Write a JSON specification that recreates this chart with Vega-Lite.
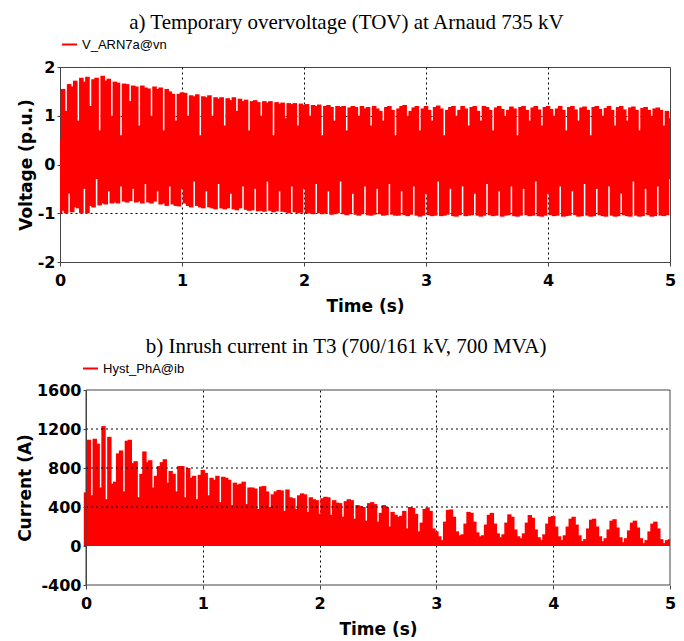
{
  "$schema": "https://vega.github.io/schema/vega-lite/v6.json",
  "padding": {"left": 16, "top": 11, "right": 4, "bottom": 0},
  "spacing": 21,
  "resolve": {"scale": {"color": "independent"}, "legend": {"color": "independent"}},
  "config": {
    "view": {"stroke": "#444", "strokeWidth": 1},
    "axis": {"labelFont": "DejaVu Sans", "labelFontWeight": "bold", "labelFontSize": 16, "labelColor": "#000", "titleFont": "DejaVu Sans", "titleFontWeight": "bold", "titleFontSize": 17, "titleColor": "#000", "domainColor": "#444", "tickColor": "#444", "gridColor": "#000", "gridDash": [2, 3], "gridWidth": 1, "zindex": 1, "labelOverlap": false, "labelExpr": "datum.value < 0 ? '-' + abs(datum.value) : '' + datum.value"},
    "axisX": {"tickSize": 4, "labelPadding": 6, "titlePadding": 10, "labelFlush": false},
    "axisY": {"tickSize": 3, "labelPadding": 2, "titlePadding": 2},
    "legend": {"orient": "none", "labelFont": "Liberation Sans", "labelFontSize": 13, "labelColor": "#000", "symbolType": "stroke", "symbolSize": 225, "symbolStrokeWidth": 2, "labelOffset": 4, "title": null},
    "title": {"font": "Liberation Serif", "fontSize": 21, "fontWeight": "normal", "color": "#000", "anchor": "middle", "frame": "bounds", "offset": 3}
  },
  "vconcat": [
    {
      "title": {"text": "a) Temporary overvoltage (TOV) at Arnaud 735 kV"},
      "width": 610,
      "height": 195,
      "data": {"values": [
        {"t":0,"hi":0.5,"lo":-1},{"t":0.025,"hi":1.55,"lo":-0.95},{"t":0.05,"hi":1.1,"lo":-1},{"t":0.075,"hi":1.65,"lo":-0.6},{"t":0.1,"hi":1.6,"lo":-0.98},
        {"t":0.125,"hi":1.72,"lo":-0.88},{"t":0.15,"hi":0.9,"lo":-0.9},{"t":0.175,"hi":1.78,"lo":-1},{"t":0.2,"hi":1.7,"lo":-0.5},{"t":0.225,"hi":1.8,"lo":-1},
        {"t":0.25,"hi":1.2,"lo":-0.85},{"t":0.275,"hi":1.75,"lo":-0.88},{"t":0.3,"hi":1.78,"lo":-0.3},{"t":0.325,"hi":0.7,"lo":-0.84},{"t":0.35,"hi":1.82,"lo":-0.8},
        {"t":0.375,"hi":1.72,"lo":-0.82},{"t":0.4,"hi":1.76,"lo":-0.55},{"t":0.425,"hi":1.0,"lo":-0.8},{"t":0.45,"hi":1.7,"lo":-0.78},{"t":0.475,"hi":1.68,"lo":-0.8},
        {"t":0.5,"hi":0.6,"lo":-0.45},{"t":0.525,"hi":1.66,"lo":-0.76},{"t":0.55,"hi":1.65,"lo":-0.78},{"t":0.575,"hi":1.3,"lo":-0.75},{"t":0.6,"hi":1.62,"lo":-0.5},
        {"t":0.625,"hi":1.6,"lo":-0.78},{"t":0.65,"hi":0.8,"lo":-0.76},{"t":0.675,"hi":1.62,"lo":-0.8},{"t":0.7,"hi":1.58,"lo":-0.4},{"t":0.725,"hi":1.56,"lo":-0.78},
        {"t":0.75,"hi":1.0,"lo":-0.8},{"t":0.775,"hi":1.6,"lo":-0.76},{"t":0.8,"hi":1.55,"lo":-0.55},{"t":0.825,"hi":1.58,"lo":-0.82},{"t":0.85,"hi":0.7,"lo":-0.8},
        {"t":0.875,"hi":1.55,"lo":-0.85},{"t":0.9,"hi":1.5,"lo":-0.45},{"t":0.925,"hi":1.45,"lo":-0.82},{"t":0.95,"hi":0.9,"lo":-0.85},{"t":0.975,"hi":1.45,"lo":-0.86},
        {"t":1,"hi":1.48,"lo":-0.5},{"t":1.025,"hi":1.47,"lo":-0.8},{"t":1.05,"hi":1.0,"lo":-0.85},{"t":1.075,"hi":1.42,"lo":-0.88},{"t":1.1,"hi":1.4,"lo":-0.35},
        {"t":1.125,"hi":1.44,"lo":-0.85},{"t":1.15,"hi":0.6,"lo":-0.88},{"t":1.175,"hi":1.4,"lo":-0.9},{"t":1.2,"hi":1.38,"lo":-0.55},{"t":1.225,"hi":1.42,"lo":-0.88},
        {"t":1.25,"hi":1.0,"lo":-0.9},{"t":1.275,"hi":1.38,"lo":-0.92},{"t":1.3,"hi":1.35,"lo":-0.4},{"t":1.325,"hi":1.38,"lo":-0.9},{"t":1.35,"hi":0.8,"lo":-0.92},
        {"t":1.375,"hi":1.36,"lo":-0.9},{"t":1.4,"hi":1.32,"lo":-0.6},{"t":1.425,"hi":1.38,"lo":-0.92},{"t":1.45,"hi":1.1,"lo":-0.94},{"t":1.475,"hi":1.35,"lo":-0.9},
        {"t":1.5,"hi":1.3,"lo":-0.45},{"t":1.525,"hi":1.33,"lo":-0.93},{"t":1.55,"hi":0.7,"lo":-0.95},{"t":1.575,"hi":1.3,"lo":-0.94},{"t":1.6,"hi":1.32,"lo":-0.5},
        {"t":1.625,"hi":1.28,"lo":-0.96},{"t":1.65,"hi":1.0,"lo":-0.95},{"t":1.675,"hi":1.3,"lo":-0.97},{"t":1.7,"hi":1.27,"lo":-0.35},{"t":1.725,"hi":1.3,"lo":-0.95},
        {"t":1.75,"hi":0.6,"lo":-0.98},{"t":1.775,"hi":1.28,"lo":-0.96},{"t":1.8,"hi":1.25,"lo":-0.55},{"t":1.825,"hi":1.27,"lo":-0.97},{"t":1.85,"hi":0.95,"lo":-0.98},
        {"t":1.875,"hi":1.26,"lo":-1},{"t":1.9,"hi":1.24,"lo":-0.45},{"t":1.925,"hi":1.26,"lo":-0.98},{"t":1.95,"hi":0.8,"lo":-1},{"t":1.975,"hi":1.25,"lo":-0.99},
        {"t":2,"hi":1.22,"lo":-0.5},{"t":2.025,"hi":1.24,"lo":-1},{"t":2.05,"hi":1.0,"lo":-1},{"t":2.075,"hi":1.22,"lo":-1.02},{"t":2.1,"hi":1.2,"lo":-0.4},
        {"t":2.125,"hi":1.23,"lo":-1},{"t":2.15,"hi":0.6,"lo":-1.02},{"t":2.175,"hi":1.2,"lo":-1},{"t":2.2,"hi":1.22,"lo":-0.55},{"t":2.225,"hi":1.18,"lo":-1.03},
        {"t":2.25,"hi":0.9,"lo":-1.02},{"t":2.275,"hi":1.2,"lo":-1},{"t":2.3,"hi":1.18,"lo":-0.35},{"t":2.325,"hi":1.2,"lo":-1.02},{"t":2.35,"hi":0.7,"lo":-1.04},
        {"t":2.375,"hi":1.17,"lo":-1.02},{"t":2.4,"hi":1.2,"lo":-0.6},{"t":2.425,"hi":1.18,"lo":-1.03},{"t":2.45,"hi":1.0,"lo":-1.05},{"t":2.475,"hi":1.2,"lo":-1.02},
        {"t":2.5,"hi":1.15,"lo":-0.45},{"t":2.525,"hi":1.18,"lo":-1.04},{"t":2.55,"hi":0.8,"lo":-1.05},{"t":2.575,"hi":1.2,"lo":-1.03},{"t":2.6,"hi":1.15,"lo":-0.5},
        {"t":2.625,"hi":1.1,"lo":-1.02},{"t":2.65,"hi":0.9,"lo":-1.05},{"t":2.675,"hi":1.18,"lo":-1.04},{"t":2.7,"hi":1.2,"lo":-0.4},{"t":2.725,"hi":1.12,"lo":-1.03},
        {"t":2.75,"hi":0.6,"lo":-1.05},{"t":2.775,"hi":1.15,"lo":-1.05},{"t":2.8,"hi":1.2,"lo":-0.55},{"t":2.825,"hi":1.22,"lo":-1.04},{"t":2.85,"hi":1.0,"lo":-1.06},
        {"t":2.875,"hi":1.1,"lo":-1.03},{"t":2.9,"hi":1.17,"lo":-0.45},{"t":2.925,"hi":1.2,"lo":-1.05},{"t":2.95,"hi":0.7,"lo":-1.07},{"t":2.975,"hi":1.15,"lo":-1.05},
        {"t":3,"hi":1.2,"lo":-0.6},{"t":3.025,"hi":1.12,"lo":-1.04},{"t":3.05,"hi":0.9,"lo":-1.06},{"t":3.075,"hi":1.18,"lo":-1.05},{"t":3.1,"hi":1.21,"lo":-0.35},
        {"t":3.125,"hi":1.15,"lo":-1.06},{"t":3.15,"hi":0.6,"lo":-1.05},{"t":3.175,"hi":1.12,"lo":-1.03},{"t":3.2,"hi":1.18,"lo":-0.5},{"t":3.225,"hi":1.2,"lo":-1.06},
        {"t":3.25,"hi":1.0,"lo":-1.07},{"t":3.275,"hi":1.12,"lo":-1.04},{"t":3.3,"hi":1.2,"lo":-0.45},{"t":3.325,"hi":1.15,"lo":-1.06},{"t":3.35,"hi":0.8,"lo":-1.05},
        {"t":3.375,"hi":1.18,"lo":-1.04},{"t":3.4,"hi":1.2,"lo":-0.6},{"t":3.425,"hi":1.1,"lo":-1.05},{"t":3.45,"hi":0.9,"lo":-1.07},{"t":3.475,"hi":1.2,"lo":-1.05},
        {"t":3.5,"hi":1.18,"lo":-0.4},{"t":3.525,"hi":1.12,"lo":-1.04},{"t":3.55,"hi":0.7,"lo":-1.06},{"t":3.575,"hi":1.17,"lo":-1.05},{"t":3.6,"hi":1.2,"lo":-0.55},
        {"t":3.625,"hi":1.14,"lo":-1.07},{"t":3.65,"hi":1.0,"lo":-1.05},{"t":3.675,"hi":1.12,"lo":-1.04},{"t":3.7,"hi":1.19,"lo":-0.45},{"t":3.725,"hi":1.15,"lo":-1.06},
        {"t":3.75,"hi":0.6,"lo":-1.07},{"t":3.775,"hi":1.18,"lo":-1.05},{"t":3.8,"hi":1.2,"lo":-0.5},{"t":3.825,"hi":1.12,"lo":-1.04},{"t":3.85,"hi":0.9,"lo":-1.06},
        {"t":3.875,"hi":1.17,"lo":-1.05},{"t":3.9,"hi":1.2,"lo":-0.35},{"t":3.925,"hi":1.13,"lo":-1.06},{"t":3.95,"hi":0.8,"lo":-1.07},{"t":3.975,"hi":1.18,"lo":-1.05},
        {"t":4,"hi":1.2,"lo":-0.6},{"t":4.025,"hi":1.14,"lo":-1.04},{"t":4.05,"hi":1.0,"lo":-1.06},{"t":4.075,"hi":1.15,"lo":-1.05},{"t":4.1,"hi":1.2,"lo":-0.45},
        {"t":4.125,"hi":1.12,"lo":-1.07},{"t":4.15,"hi":0.7,"lo":-1.06},{"t":4.175,"hi":1.18,"lo":-1.05},{"t":4.2,"hi":1.2,"lo":-0.55},{"t":4.225,"hi":1.13,"lo":-1.04},
        {"t":4.25,"hi":0.9,"lo":-1.07},{"t":4.275,"hi":1.17,"lo":-1.06},{"t":4.3,"hi":1.19,"lo":-0.4},{"t":4.325,"hi":1.12,"lo":-1.05},{"t":4.35,"hi":0.6,"lo":-1.07},
        {"t":4.375,"hi":1.18,"lo":-1.06},{"t":4.4,"hi":1.2,"lo":-0.5},{"t":4.425,"hi":1.14,"lo":-1.04},{"t":4.45,"hi":1.0,"lo":-1.06},{"t":4.475,"hi":1.16,"lo":-1.07},
        {"t":4.5,"hi":1.2,"lo":-0.45},{"t":4.525,"hi":1.12,"lo":-1.05},{"t":4.55,"hi":0.8,"lo":-1.07},{"t":4.575,"hi":1.18,"lo":-1.06},{"t":4.6,"hi":1.2,"lo":-0.6},
        {"t":4.625,"hi":1.13,"lo":-1.04},{"t":4.65,"hi":0.9,"lo":-1.06},{"t":4.675,"hi":1.17,"lo":-1.07},{"t":4.7,"hi":1.19,"lo":-0.35},{"t":4.725,"hi":1.12,"lo":-1.05},
        {"t":4.75,"hi":0.7,"lo":-1.07},{"t":4.775,"hi":1.16,"lo":-1.06},{"t":4.8,"hi":1.18,"lo":-0.5},{"t":4.825,"hi":1.12,"lo":-1.04},{"t":4.85,"hi":1.0,"lo":-1.07},
        {"t":4.875,"hi":1.15,"lo":-1.06},{"t":4.9,"hi":1.17,"lo":-0.45},{"t":4.925,"hi":1.12,"lo":-1.05},{"t":4.95,"hi":0.8,"lo":-1.06},{"t":4.975,"hi":1.1,"lo":-1.04},
        {"t":5,"hi":0.95,"lo":-0.3}
      ]},
      "mark": {"type": "rule", "strokeWidth": 4.6, "clip": true},
      "encoding": {
        "x": {"field": "t", "type": "quantitative", "title": "Time (s)", "scale": {"domain": [0, 5], "nice": false}, "axis": {"values": [0, 1, 2, 3, 4, 5], "gridOpacity": {"condition": {"test": "datum.value === 0 || datum.value === 5", "value": 0}, "value": 1}}},
        "y": {"field": "lo", "type": "quantitative", "title": "Voltage (p.u.)", "scale": {"domain": [-2, 2], "nice": false}, "axis": {"values": [-2, -1, 0, 1, 2], "gridOpacity": {"condition": {"test": "datum.value === 0 || datum.value === 2 || datum.value === -2", "value": 0}, "value": 1}}},
        "y2": {"field": "hi"},
        "color": {"datum": "V_ARN7a@vn", "scale": {"range": ["#ff0000"]}, "legend": {"legendX": 1, "legendY": -31}}
      }
    },
    {
      "title": {"text": "b) Inrush current in T3 (700/161 kV, 700 MVA)"},
      "width": 610,
      "height": 195,
      "view": {"stroke": null},
      "encoding": {
        "x": {"field": "t", "type": "quantitative", "title": "Time (s)", "scale": {"domain": [-0.2226, 5], "nice": false, "zero": false}, "axis": {"values": [0, 1, 2, 3, 4, 5], "domain": false, "titleX": 318, "gridOpacity": {"condition": {"test": "datum.value === 0 || datum.value === 5", "value": 0}, "value": 1}}},
        "y": {"field": "i", "type": "quantitative", "title": "Current (A)", "scale": {"domain": [-400, 1600], "nice": false}, "axis": {"values": [-400, 0, 400, 800, 1200, 1600], "offset": -26, "grid": false, "labelOverlap": false}}
      },
      "layer": [
        {
          "data": {"values": [
            {"t":0,"i":550},{"t":0.025,"i":1090},{"t":0.05,"i":520},{"t":0.075,"i":1100},{"t":0.1,"i":1050},{"t":0.125,"i":600},{"t":0.15,"i":1230},{"t":0.175,"i":480},
            {"t":0.2,"i":1120},{"t":0.225,"i":640},{"t":0.25,"i":660},{"t":0.275,"i":950},{"t":0.3,"i":980},{"t":0.325,"i":560},{"t":0.35,"i":1080},{"t":0.375,"i":1090},
            {"t":0.4,"i":850},{"t":0.425,"i":870},{"t":0.45,"i":500},{"t":0.475,"i":740},{"t":0.5,"i":970},{"t":0.525,"i":860},{"t":0.55,"i":880},{"t":0.575,"i":600},
            {"t":0.6,"i":720},{"t":0.625,"i":820},{"t":0.65,"i":860},{"t":0.675,"i":890},{"t":0.7,"i":650},{"t":0.725,"i":770},{"t":0.75,"i":740},{"t":0.775,"i":560},
            {"t":0.8,"i":820},{"t":0.825,"i":820},{"t":0.85,"i":500},{"t":0.875,"i":800},{"t":0.9,"i":700},{"t":0.925,"i":720},{"t":0.95,"i":480},{"t":0.975,"i":730},
            {"t":1,"i":780},{"t":1.025,"i":750},{"t":1.05,"i":520},{"t":1.075,"i":700},{"t":1.1,"i":680},{"t":1.125,"i":720},{"t":1.15,"i":450},{"t":1.175,"i":710},
            {"t":1.2,"i":700},{"t":1.225,"i":680},{"t":1.25,"i":420},{"t":1.275,"i":650},{"t":1.3,"i":630},{"t":1.325,"i":640},{"t":1.35,"i":660},{"t":1.375,"i":430},
            {"t":1.4,"i":600},{"t":1.425,"i":600},{"t":1.45,"i":590},{"t":1.475,"i":380},{"t":1.5,"i":610},{"t":1.525,"i":615},{"t":1.55,"i":560},{"t":1.575,"i":400},
            {"t":1.6,"i":530},{"t":1.625,"i":560},{"t":1.65,"i":575},{"t":1.675,"i":570},{"t":1.7,"i":360},{"t":1.725,"i":580},{"t":1.75,"i":500},{"t":1.775,"i":490},
            {"t":1.8,"i":380},{"t":1.825,"i":520},{"t":1.85,"i":540},{"t":1.875,"i":530},{"t":1.9,"i":350},{"t":1.925,"i":500},{"t":1.95,"i":480},{"t":1.975,"i":470},
            {"t":2,"i":330},{"t":2.025,"i":490},{"t":2.05,"i":505},{"t":2.075,"i":500},{"t":2.1,"i":320},{"t":2.125,"i":470},{"t":2.15,"i":445},{"t":2.175,"i":440},
            {"t":2.2,"i":300},{"t":2.225,"i":460},{"t":2.25,"i":480},{"t":2.275,"i":470},{"t":2.3,"i":280},{"t":2.325,"i":420},{"t":2.35,"i":410},{"t":2.375,"i":400},
            {"t":2.4,"i":260},{"t":2.425,"i":440},{"t":2.45,"i":450},{"t":2.475,"i":430},{"t":2.5,"i":250},{"t":2.525,"i":340},{"t":2.55,"i":420},{"t":2.575,"i":400},
            {"t":2.6,"i":200},{"t":2.625,"i":350},{"t":2.65,"i":320},{"t":2.675,"i":300},{"t":2.7,"i":310},{"t":2.725,"i":360},{"t":2.75,"i":180},{"t":2.775,"i":400},
            {"t":2.8,"i":390},{"t":2.825,"i":330},{"t":2.85,"i":150},{"t":2.875,"i":240},{"t":2.9,"i":380},{"t":2.925,"i":395},{"t":2.95,"i":360},{"t":2.975,"i":180},
            {"t":3,"i":150},{"t":3.025,"i":100},{"t":3.05,"i":60},{"t":3.075,"i":250},{"t":3.1,"i":370},{"t":3.125,"i":375},{"t":3.15,"i":300},{"t":3.175,"i":150},
            {"t":3.2,"i":110},{"t":3.225,"i":120},{"t":3.25,"i":230},{"t":3.275,"i":350},{"t":3.3,"i":340},{"t":3.325,"i":250},{"t":3.35,"i":140},{"t":3.375,"i":100},
            {"t":3.4,"i":110},{"t":3.425,"i":220},{"t":3.45,"i":320},{"t":3.475,"i":340},{"t":3.5,"i":230},{"t":3.525,"i":130},{"t":3.55,"i":90},{"t":3.575,"i":120},
            {"t":3.6,"i":240},{"t":3.625,"i":325},{"t":3.65,"i":300},{"t":3.675,"i":170},{"t":3.7,"i":100},{"t":3.725,"i":80},{"t":3.75,"i":130},{"t":3.775,"i":240},
            {"t":3.8,"i":318},{"t":3.825,"i":290},{"t":3.85,"i":170},{"t":3.875,"i":90},{"t":3.9,"i":60},{"t":3.925,"i":120},{"t":3.95,"i":230},{"t":3.975,"i":300},
            {"t":4,"i":308},{"t":4.025,"i":200},{"t":4.05,"i":100},{"t":4.075,"i":60},{"t":4.1,"i":110},{"t":4.125,"i":200},{"t":4.15,"i":280},{"t":4.175,"i":300},
            {"t":4.2,"i":220},{"t":4.225,"i":110},{"t":4.25,"i":50},{"t":4.275,"i":70},{"t":4.3,"i":180},{"t":4.325,"i":270},{"t":4.35,"i":280},{"t":4.375,"i":200},
            {"t":4.4,"i":100},{"t":4.425,"i":50},{"t":4.45,"i":80},{"t":4.475,"i":170},{"t":4.5,"i":260},{"t":4.525,"i":275},{"t":4.55,"i":190},{"t":4.575,"i":90},
            {"t":4.6,"i":40},{"t":4.625,"i":80},{"t":4.65,"i":160},{"t":4.675,"i":240},{"t":4.7,"i":260},{"t":4.725,"i":190},{"t":4.75,"i":80},{"t":4.775,"i":30},
            {"t":4.8,"i":60},{"t":4.825,"i":150},{"t":4.85,"i":230},{"t":4.875,"i":250},{"t":4.9,"i":180},{"t":4.925,"i":70},{"t":4.95,"i":30},{"t":4.975,"i":60},
            {"t":5,"i":70}
          ]},
          "mark": {"type": "rule", "strokeWidth": 4.4, "clip": true},
          "encoding": {
            "y2": {"datum": 0},
            "color": {"datum": "Hyst_PhA@ib", "scale": {"range": ["#ff0000"]}, "legend": {"legendX": 22, "legendY": -30}}
          }
        },
        {
          "data": {"values": [{"t": 0, "t2": 5, "i": 400}, {"t": 0, "t2": 5, "i": 800}, {"t": 0, "t2": 5, "i": 1200}]},
          "mark": {"type": "rule", "color": "#000", "strokeWidth": 1, "strokeDash": [2, 3]},
          "encoding": {
            "x2": {"field": "t2"}
          }
        },
        {
          "data": {"values": [{"t": 0, "t2": 5, "i": -400, "i2": 1600}]},
          "mark": {"type": "rect", "fill": null, "stroke": "#444", "strokeWidth": 1},
          "encoding": {
            "x2": {"field": "t2"},
            "y2": {"field": "i2"}
          }
        }
      ]
    }
  ]
}
